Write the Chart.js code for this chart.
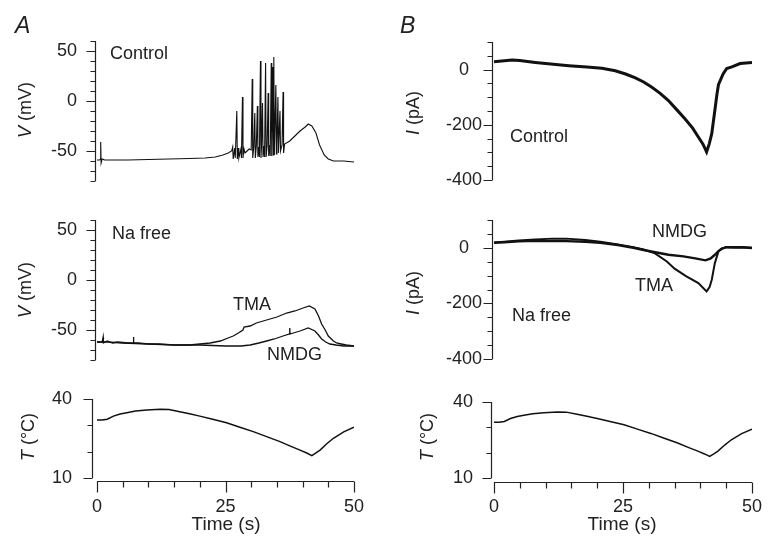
<!DOCTYPE html>
<html>
<head>
<meta charset="utf-8">
<script src="https://cdn.jsdelivr.net/npm/chart.js@4"></script>
<style>
  body { margin: 0; background: #fff; }
  #fig { position: relative; width: 769px; height: 536px; overflow: hidden; }
  #fig canvas { position: absolute; left: 0; top: 0; }
  .lbl { position: absolute; font: 18px "Liberation Sans", Arial, sans-serif; line-height: 1; color: #222; white-space: nowrap; }
  .big { font-size: 23px; font-style: italic; }
  .ytl { transform: translate(-50%, -50%) rotate(-90deg); }
  .xtl { transform: translate(-50%, -50%); }
</style>
</head>
<body>
<div id="fig">
  <canvas id="gA1" width="769" height="536"></canvas>
  <canvas id="gA2" width="769" height="536"></canvas>
  <canvas id="gA3" width="769" height="536"></canvas>
  <canvas id="gB1" width="769" height="536"></canvas>
  <canvas id="gB2" width="769" height="536"></canvas>
  <canvas id="gB3" width="769" height="536"></canvas>

  <div class="lbl big" style="left:15px; top:14px;">A</div>
  <div class="lbl big" style="left:400px; top:14px;">B</div>

  <div class="lbl ytl" style="left:25px; top:110px;"><i>V</i> (mV)</div>
  <div class="lbl ytl" style="left:25px; top:290px;"><i>V</i> (mV)</div>
  <div class="lbl ytl" style="left:28px; top:437px;"><i>T</i> (°C)</div>
  <div class="lbl ytl" style="left:413px; top:113px;"><i>I</i> (pA)</div>
  <div class="lbl ytl" style="left:413px; top:293px;"><i>I</i> (pA)</div>
  <div class="lbl ytl" style="left:427px; top:437px;"><i>T</i> (°C)</div>
  <div class="lbl xtl" style="left:226px; top:523px; font-size:19px;">Time (s)</div>
  <div class="lbl xtl" style="left:622px; top:523px; font-size:19px;">Time (s)</div>

  <div class="lbl" style="left:110px; top:44px;">Control</div>
  <div class="lbl" style="left:112px; top:224px;">Na free</div>
  <div class="lbl" style="left:233px; top:295px;">TMA</div>
  <div class="lbl" style="left:267px; top:345px;">NMDG</div>
  <div class="lbl" style="left:510px; top:127px;">Control</div>
  <div class="lbl" style="left:652px; top:222px;">NMDG</div>
  <div class="lbl" style="left:635px; top:276px;">TMA</div>
  <div class="lbl" style="left:512px; top:306px;">Na free</div>
</div>

<script>
// ---- dados ----

// A, Control: potencial de membrana (mV) com os disparos
const vCtrlT = [0, 0.5, 0.65, 0.72, 0.8, 1.0, 1.5, 3, 6, 10, 14, 18, 21, 23, 24.5, 25.5, 26.2, 26.4, 26.5, 26.8,
  26.9, 27.2, 27.3, 27.5, 27.6, 28.0, 28.1, 28.3, 28.4, 28.6, 28.8, 29.2, 29.6, 30.0, 30.2, 30.3, 30.5, 30.7, 30.8, 31.0,
  31.2, 31.3, 31.5, 31.6, 31.8, 31.9, 32.0, 32.2, 32.3, 32.5, 32.6, 32.8, 32.9, 33.1, 33.3, 33.4, 33.6, 33.7, 33.9, 34.0,
  34.2, 34.3, 34.4, 34.5, 34.8, 34.9, 35.0, 35.2, 35.3, 35.6, 35.7, 36.0, 36.2, 36.3, 36.5, 37.5, 38.5, 39.5, 40.5, 41.1,
  41.8, 42.6, 43.3, 44.2, 45, 46, 48, 50];
const vCtrl = [-59, -59, -58, -41, -62, -58, -59, -59, -59, -58.5, -58, -57.5, -57, -56, -54, -52, -50, -46, -58, -47,
  -57, -10, -58, -47, -57, -48, -57, 4, -57, -48, -52, -50, -48, -49, 22, -57, -46, -12, -57, -45,
  -5, -56, -46, -56, 40, -57, -46, -2, -56, -45, -56, 38, -56, -45, 8, -55, -44, -55, 38, -55,
  34, -54, 44, -54, 16, -53, -44, 4, -52, -10, -50, -44, 9, -52, -43, -40, -35, -30, -26, -23,
  -25, -32, -44, -54, -58, -60, -60, -61];

// A, Na free: TMA e NMDG (mV)
const vTmaT = [0, 1, 1.15, 1.2, 1.25, 2, 3, 4, 6, 7.05, 7.1, 7.15, 8, 10, 12, 15, 18, 20, 22, 24, 25.5, 26.5,
  27.5, 28.4, 28.6, 29.8, 31, 33, 35, 36.9, 38.5, 40.1, 41.3, 42.4, 43.1, 43.7, 44.4, 45, 46, 46.6, 47.5, 48.5, 50];
const vTma = [-62, -62, -62, -57, -63, -61, -63, -62, -63, -63, -57, -63, -63, -64, -64, -65, -65, -64, -63, -61, -58, -56,
  -53, -50, -47, -46, -43, -40, -37, -33, -31, -28, -26, -29, -36, -44, -50, -56, -61, -63, -64, -65, -66];
const vNmdgT = [0, 2, 5, 10, 15, 20, 25, 28, 29.8, 31.5, 33, 34.5, 36.2, 37.45, 37.5, 37.55, 39.5, 41.1, 42.4, 43.1,
  43.7, 44.5, 45.3, 46.5, 48, 50];
const vNmdg = [-62, -62, -63, -64, -65, -65, -66, -66, -65, -63, -61, -59, -56, -54, -48, -54, -51, -48, -51, -55,
  -59, -62, -64, -65, -66, -66];

// B, Control: corrente (pA)
const iCtrlT = [0, 1, 2, 3.5, 5, 8, 11, 14.5, 18, 20.9, 23.5, 25.5, 27.4, 29, 30.6, 32.2, 33.8, 35.4, 37, 38.5,
  39.6, 40.5, 41.2, 41.7, 42.2, 42.5, 42.8, 43.2, 43.5, 44.4, 45.1, 46.1, 47.7, 50];
const iCtrl = [28, 30, 32, 35, 33, 26, 20, 14, 9, 5, -4, -16, -30, -45, -64, -86, -112, -145, -178, -212,
  -244, -270, -298, -270, -232, -190, -148, -90, -55, -16, 4, 10, 22, 26];

// B, Na free: NMDG e TMA (pA)
const iNmdgT = [0, 2, 4.8, 8, 11.3, 14, 17.7, 20.6, 24, 27, 29, 31.5, 33.8, 36.7, 39, 41, 42, 42.8, 43.5, 44.1,
  45, 46.7, 48, 50];
const iNmdg = [18, 20, 23, 25, 24, 24, 22, 18, 10, 0, -8, -17, -25, -31, -38, -45, -38, -25, -12, -4,
  2, 1, 2, -1];
const iTmaT = [0, 2, 4.8, 8, 11.3, 14, 17.7, 20.6, 24, 27, 29, 31.2, 33.5, 35, 37.2, 39.6, 41.2, 41.8, 42.2, 42.8,
  43.5, 44.1, 45, 47, 50];
const iTma = [19, 22, 26, 30, 33, 33, 28, 22, 12, 2, -6, -20, -49, -75, -102, -127, -157, -140, -115, -55,
  -13, -3, 2, 3, 0];

// temperatura (°C), igual nas duas colunas
const tempT = [0, 1, 2, 3.2, 4.5, 5.8, 7.5, 9.7, 12.3, 14, 16.1, 18, 20, 22.5, 25.2, 27.8, 30.4, 33, 35.6, 37.5,
  39.5, 40.8, 41.8, 42.6, 43.4, 44.7, 46, 48, 50];
const temp = [32, 32, 32.3, 33.5, 34.3, 34.8, 35.4, 35.8, 36.1, 36.0, 35.2, 34.4, 33.5, 32.3, 31.0, 29.3, 27.6, 25.7, 23.8, 22.2,
  20.6, 19.5, 18.5, 19.5, 20.6, 23.0, 25.1, 27.5, 29.3];

// rótulos dos eixos
const vTicks = [50, 0, -50];
const iTicks = [0, -200, -400];
const tempTicks = [10, 40];
const timeTicks = [0, 25, 50];

// ---- desenho ----
const W = 769, H = 536;
const fonte = { family: '"Liberation Sans", Arial, sans-serif', size: 18 };
const corTexto = '#222';

function pts(ts, vs) {
  return ts.map((t, i) => ({ x: t, y: vs[i] }));
}

function traco(ts, vs, largura) {
  return { data: pts(ts, vs), borderColor: '#111', borderWidth: largura, pointRadius: 0, tension: 0 };
}

// eixos destacados com ticks maiores nos valores rotulados
const eixosPlugin = {
  id: 'eixos',
  afterDraw(chart, args, o) {
    const ctx = chart.ctx, area = chart.chartArea;
    const ys = chart.scales.y, xs = chart.scales.x;
    const ax = Math.round(area.left - o.yGap) + 0.5;
    ctx.save();
    ctx.strokeStyle = '#222';
    ctx.lineWidth = 1.2;
    ctx.beginPath();
    ctx.moveTo(ax, ys.getPixelForValue(ys.max));
    ctx.lineTo(ax, ys.getPixelForValue(ys.min));
    ys.ticks.forEach(t => {
      const p = Math.round(ys.getPixelForValue(t.value)) + 0.5;
      const len = t.label ? 9 : 5;
      ctx.moveTo(ax - len, p);
      ctx.lineTo(ax, p);
    });
    if (o.xAxis) {
      const ay = Math.round(area.bottom + o.xGap) + 0.5;
      ctx.moveTo(xs.getPixelForValue(xs.min), ay);
      ctx.lineTo(xs.getPixelForValue(xs.max), ay);
      xs.ticks.forEach(t => {
        const p = Math.round(xs.getPixelForValue(t.value)) + 0.5;
        const len = t.label ? 11 : 6;
        ctx.moveTo(p, ay);
        ctx.lineTo(p, ay + len);
      });
    }
    ctx.stroke();
    ctx.restore();
  }
};

function painel(id, p) {
  const yLarg = 60;
  return new Chart(document.getElementById(id), {
    type: 'line',
    data: { datasets: p.datasets },
    options: {
      responsive: false,
      animation: false,
      layout: { padding: { left: p.left - yLarg, right: W - p.right, top: p.top, bottom: p.xAxis ? 0 : H - p.bottom } },
      plugins: {
        legend: { display: false },
        tooltip: { enabled: false },
        eixos: { yGap: p.yGap, xGap: p.xGap || 0, xAxis: !!p.xAxis }
      },
      scales: {
        x: {
          type: 'linear', min: 0, max: 50,
          display: !!p.xAxis,
          afterFit: s => { s.height = p.xAxis ? H - p.bottom : 0; },
          // tickLength só afasta os rótulos; as marcas são desenhadas pelo plugin
          grid: { display: false, drawTicks: true, tickLength: 18 },
          border: { display: false },
          ticks: {
            stepSize: 5, autoSkip: false, maxRotation: 0, padding: 0,
            font: fonte, color: corTexto,
            callback: v => timeTicks.includes(v) ? String(v) : ''
          }
        },
        y: {
          type: 'linear', min: p.yMin, max: p.yMax,
          afterFit: s => { s.width = yLarg; },
          grid: { display: false, drawTicks: false },
          border: { display: false },
          ticks: {
            stepSize: p.yStep, autoSkip: false, padding: p.tickPad, crossAlign: p.crossAlign,
            font: fonte, color: corTexto,
            callback: v => p.yLabels.includes(v) ? String(v) : ''
          }
        }
      }
    },
    plugins: [eixosPlugin]
  });
}

painel('gA1', { left: 97, right: 354, top: 41, bottom: 181, yMin: -80, yMax: 60, yStep: 10, yLabels: vTicks,
  yGap: 2, tickPad: 20, crossAlign: 'near', datasets: [traco(vCtrlT, vCtrl, 1.1)] });
painel('gA2', { left: 97, right: 354, top: 220, bottom: 360, yMin: -80, yMax: 60, yStep: 10, yLabels: vTicks,
  yGap: 2, tickPad: 20, crossAlign: 'near', datasets: [traco(vTmaT, vTma, 1.3), traco(vNmdgT, vNmdg, 1.3)] });
painel('gA3', { left: 97, right: 354, top: 399, bottom: 478, yMin: 10, yMax: 40, yStep: 10, yLabels: tempTicks,
  yGap: 5, tickPad: 25, crossAlign: 'near', xAxis: true, xGap: 3, datasets: [traco(tempT, temp, 1.5)] });

painel('gB1', { left: 494, right: 752, top: 42, bottom: 180, yMin: -400, yMax: 100, yStep: 50, yLabels: iTicks,
  yGap: 2, tickPad: 12, crossAlign: 'center', datasets: [traco(iCtrlT, iCtrl, 3)] });
painel('gB2', { left: 494, right: 752, top: 220, bottom: 359, yMin: -400, yMax: 100, yStep: 50, yLabels: iTicks,
  yGap: 2, tickPad: 12, crossAlign: 'center', datasets: [traco(iNmdgT, iNmdg, 2.4), traco(iTmaT, iTma, 2.0)] });
painel('gB3', { left: 494, right: 752, top: 402, bottom: 478, yMin: 10, yMax: 40, yStep: 10, yLabels: tempTicks,
  yGap: 3, tickPad: 21, crossAlign: 'near', xAxis: true, xGap: 4, datasets: [traco(tempT, temp, 1.5)] });
</script>
</body>
</html>
